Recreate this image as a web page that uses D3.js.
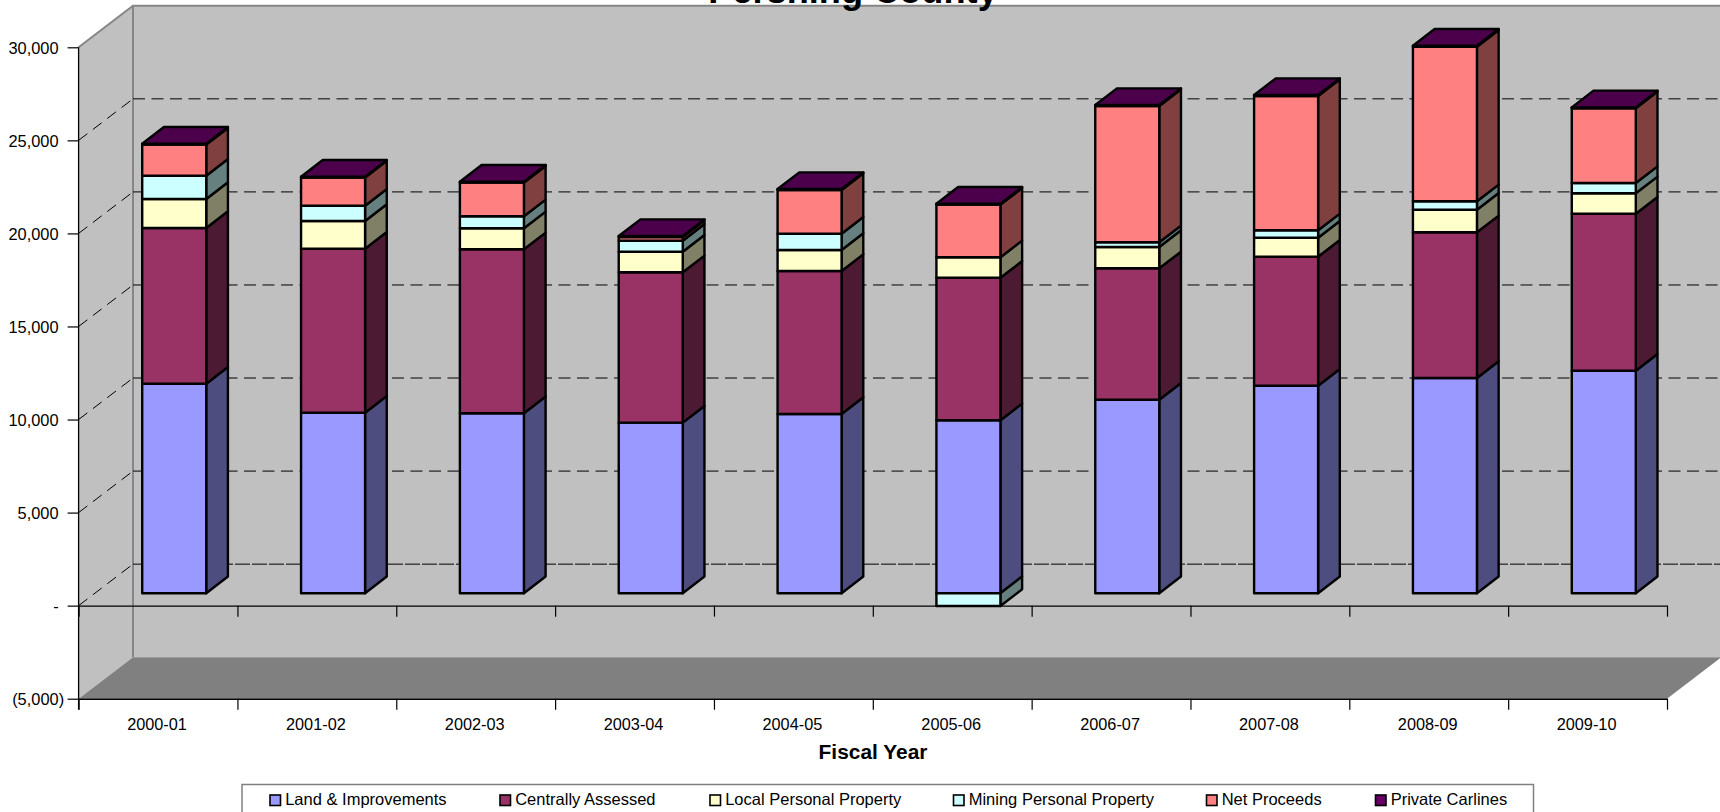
<!DOCTYPE html>
<html>
<head>
<meta charset="utf-8">
<script src="https://cdn.jsdelivr.net/npm/d3@7"></script>
<style>
html,body{margin:0;padding:0;background:#fff;overflow:hidden}
svg{display:block}
text{font-family:"Liberation Sans",Arial,sans-serif;fill:#000}
</style>
</head>
<body>
<svg id="chart" width="1720" height="812"></svg>
<script>
const fiscalYears = ["2000-01","2001-02","2002-03","2003-04","2004-05","2005-06","2006-07","2007-08","2008-09","2009-10"];
const seriesNames = ["Land & Improvements","Centrally Assessed","Local Personal Property","Mining Personal Property","Net Proceeds","Private Carlines"];
const landImprovements = [11260,9702,9670,9165,9632,9293,10400,11152,11566,11958];
const centrallyAssessed = [8364,8810,8810,8079,7682,7661,7059,6930,7827,8434];
const localPersonalProperty = [1558,1488,1128,1107,1128,1096,1144,1021,1214,1096];
const miningPersonalProperty = [1252,822,644,591,876,-682,253,397,451,553];
const netProceeds = [1670,1510,1810,200,2350,2830,7326,7219,8309,4017];
const privateCarlines = [49,48,49,50,50,50,50,50,50,50];
const seriesValues = [landImprovements,centrallyAssessed,localPersonalProperty,miningPersonalProperty,netProceeds,privateCarlines];
const yTickValues = [-5000,0,5000,10000,15000,20000,25000,30000];
const frontColors = ["#9999FF","#993366","#FFFFCC","#CCFFFF","#FF8080","#660066"];
const sideColors = ["#4D4D80","#4D1A33","#808066","#668080","#804040","#330033"];
const topColor = "#4C004C";
const legendSwatchX = [270,500,710,953.5,1206.5,1375.5];

const svg = d3.select("#chart");
const left = 78.6, right = 1667, top0 = 47.3, bottom = 698.7;
const wallDx = 54.4, wallDy = -41.5;
const barOffX = 16.2, barOffY = -12.4, depthX = 21.7, depthY = -16.7;

const y = d3.scaleLinear().domain([-5000,30000]).range([bottom,top0]);
const x = d3.scaleBand().domain(fiscalYears).range([left,right]).paddingInner(0.597).paddingOuter(0.2985);
const boundary = d3.scaleLinear().domain([0,fiscalYears.length]).range([left,right]);
const line = d3.line();

// Walls and floor
const wallTop = y(30000)+wallDy, wallBottom = y(-5000)+wallDy;
const backLeft = left+wallDx, backRight = right+wallDx;
svg.append("rect").attr("x",backLeft).attr("y",wallTop).attr("width",1720-backLeft).attr("height",wallBottom-wallTop).attr("fill","#C0C0C0");
svg.append("path").attr("d",line([[left,y(30000)],[backLeft,wallTop],[backLeft,wallBottom],[left,y(-5000)]])+"Z").attr("fill","#C0C0C0");
svg.append("path").attr("d",line([[left,y(-5000)],[backLeft,wallBottom],[backRight,wallBottom],[right,y(-5000)]])+"Z").attr("fill","#808080");
svg.append("path").attr("d",line([[left,y(30000)],[backLeft,wallTop],[1720,wallTop]])).attr("fill","none").attr("stroke","#868686").attr("stroke-width",2);
svg.append("path").attr("d",line([[backLeft,wallTop],[backLeft,wallBottom]])).attr("fill","none").attr("stroke","#868686").attr("stroke-width",2);

// Title
svg.append("text").attr("x",853).attr("y",3).attr("text-anchor","middle")
  .attr("font-size",36.2).attr("font-weight","bold").text("Pershing County");

// Gridlines
const gridVals = yTickValues.filter(v=>v>=0 && v<30000);
gridVals.forEach(v=>{
  const py = y(v);
  svg.append("path").attr("d",line([[left,py],[backLeft,py+wallDy]])).attr("fill","none").attr("stroke","#000").attr("stroke-width",1).attr("stroke-dasharray","11 7");
  svg.append("path").attr("d",line([[backLeft,py+wallDy],[1720,py+wallDy]])).attr("fill","none").attr("stroke","#000").attr("stroke-width",1).attr("stroke-dasharray",v===0?"15 2":"12 6.5");
});

// Axes
const fmt = v => v===0 ? "-" : v<0 ? "("+d3.format(",")(-v)+")" : d3.format(",")(v);
const yAxis = svg.append("g").attr("transform",`translate(${left},0)`)
  .call(d3.axisLeft(y).tickValues(yTickValues).tickFormat(fmt).tickSize(11).tickPadding(9));
yAxis.selectAll("text").attr("font-size",16.4).attr("font-family",'"Liberation Sans",Arial,sans-serif')
  .attr("dx",d=>d<0?5.5:0).attr("dy","0.36em");
yAxis.select(".domain").attr("d",line([[0,y(30000)],[0,y(-5000)+11]])).attr("stroke","#000").attr("stroke-width",1.3);
yAxis.selectAll(".tick line").attr("stroke","#000").attr("stroke-width",1.2);

[0,-5000].forEach(v=>{
  const g = svg.append("g").attr("transform",`translate(0,${y(v)})`)
    .call(d3.axisBottom(boundary).tickValues(d3.range(0,fiscalYears.length+1)).tickFormat("").tickSize(11).tickSizeOuter(0));
  g.select(".domain").attr("stroke","#000").attr("stroke-width",1.4);
  g.selectAll(".tick line").attr("stroke","#000").attr("stroke-width",1.2);
});

const labelAxis = svg.append("g").attr("transform",`translate(-1,${y(-5000)})`)
  .call(d3.axisBottom(x).tickSize(0).tickPadding(0));
labelAxis.select(".domain").remove();
labelAxis.selectAll("text").attr("font-size",16.3).attr("font-family",'"Liberation Sans",Arial,sans-serif')
  .attr("y",31.3).attr("dy",0);

// Stacked 3D bars
const rows = fiscalYears.map((year,i)=>{
  const r = {year};
  seriesNames.forEach((n,s)=>{ r[n]=seriesValues[s][i]; });
  return r;
});
const stacked = d3.stack().keys(seriesNames).offset(d3.stackOffsetDiverging)(rows);
const bw = x.bandwidth();
const barsLayer = svg.append("g").attr("stroke","#000").attr("stroke-width",2.4).attr("stroke-linejoin","round");
fiscalYears.forEach((year,i)=>{
  const x0 = x(year)+barOffX, x1 = x0+bw;
  const g = barsLayer.append("g");
  const order = stacked.map((st,s)=>({s,lo:Math.min(st[i][0],st[i][1]),hi:Math.max(st[i][0],st[i][1])}));
  order.forEach(o=>{
    const yLo = y(o.lo)+barOffY, yHi = y(o.hi)+barOffY;
    g.append("path").attr("d",line([[x1,yLo],[x1+depthX,yLo+depthY],[x1+depthX,yHi+depthY],[x1,yHi]])+"Z").attr("fill",sideColors[o.s]);
    g.append("path").attr("d",line([[x0,yLo],[x1,yLo],[x1,yHi],[x0,yHi]])+"Z").attr("fill",frontColors[o.s]);
  });
  const highest = y(d3.max(order,o=>o.hi))+barOffY;
  g.append("path").attr("d",line([[x0,highest],[x1,highest],[x1+depthX,highest+depthY],[x0+depthX,highest+depthY]])+"Z").attr("fill",topColor);
});

// Axis title
svg.append("text").attr("x",873).attr("y",759.3).attr("text-anchor","middle")
  .attr("font-size",20.9).attr("font-weight","bold").text("Fiscal Year");

// Legend
svg.append("rect").attr("x",242).attr("y",784.5).attr("width",1291.5).attr("height",40)
  .attr("fill","#fff").attr("stroke","#808080").attr("stroke-width",1.5);
const legend = svg.selectAll("g.legend").data(seriesNames).join("g").attr("class","legend")
  .attr("transform",(d,i)=>`translate(${legendSwatchX[i]},795)`);
legend.append("rect").attr("width",10.5).attr("height",10.5).attr("fill",(d,i)=>frontColors[i]).attr("stroke","#000").attr("stroke-width",1.6);
legend.append("text").attr("x",15.2).attr("y",10).attr("font-size",16.5).text(d=>d);
</script>
</body>
</html>
